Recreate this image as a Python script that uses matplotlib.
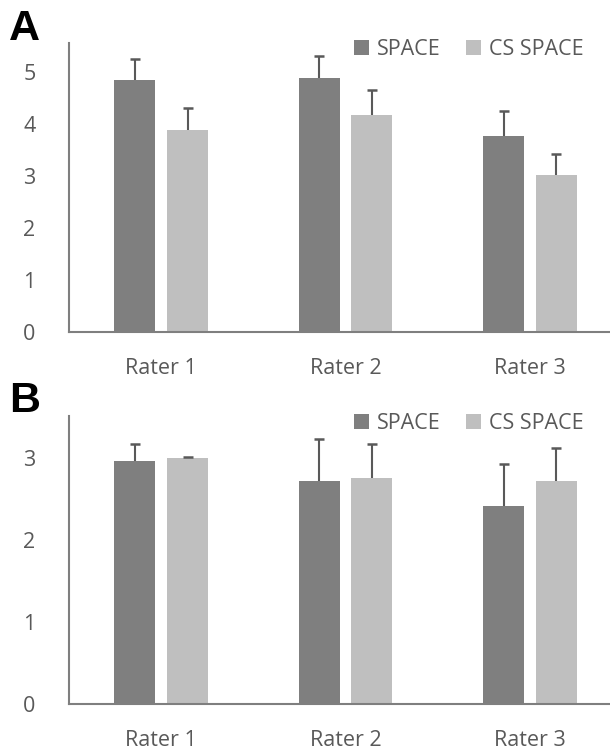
import matplotlib
matplotlib.use("Agg")
import matplotlib.pyplot as plt
import numpy as np

plt.rcParams['font.family'] = ['Open Sans', 'DejaVu Sans']

raters = ["Rater 1", "Rater 2", "Rater 3"]
series = ["SPACE", "CS SPACE"]

# panel A
a_space = [4.83, 4.87, 3.76]
a_space_err = [0.42, 0.42, 0.48]
a_cs = [3.87, 4.17, 3.02]
a_cs_err = [0.44, 0.47, 0.40]

# panel B
b_space = [2.96, 2.71, 2.41]
b_space_err = [0.21, 0.51, 0.51]
b_cs = [3.00, 2.75, 2.72]
b_cs_err = [0.01, 0.41, 0.40]

dark = '#7f7f7f'
light = '#bfbfbf'
txt = '#595959'

fig = plt.figure(figsize=(6.1, 7.53), dpi=100)


def upper_err(ax, x, y, e):
    y = np.asarray(y)
    e = np.asarray(e)
    ax.vlines(x, y, y + e, color=txt, lw=1.5, zorder=3)
    ax.plot(x, y + e, ls='none', marker='_', ms=7, mew=1.8, color=txt, zorder=3)


def panel(rect, s, se, c, ce, ymax, yticks, letter, letter_y):
    ax = fig.add_axes(rect)
    x = np.arange(len(raters))
    w = 0.222
    off = 0.143
    ax.bar(x - off, s, w, color=dark, label=series[0], zorder=2)
    ax.bar(x + off, c, w, color=light, label=series[1], zorder=2)
    upper_err(ax, x - off, s, se)
    upper_err(ax, x + off, c, ce)
    ax.set_xlim(-0.5, 2.5)
    ax.set_ylim(0, ymax)
    ax.set_yticks(yticks)
    ax.set_xticks(x)
    ax.set_xticklabels(raters)
    ax.tick_params(length=0, labelsize=15.5, labelcolor=txt)
    ax.tick_params(axis='x', pad=19)
    ax.tick_params(axis='y', pad=24)
    for sp in ['top', 'right']:
        ax.spines[sp].set_visible(False)
    for sp in ['left', 'bottom']:
        ax.spines[sp].set_color('#7f7f7f')
        ax.spines[sp].set_linewidth(1.5)
    ax.legend(loc='upper left', bbox_to_anchor=(0.48, 1.08), ncol=2,
              frameon=False, fontsize=15.5, handlelength=0.7,
              handleheight=0.7, handletextpad=0.35, columnspacing=1.2,
              labelcolor=txt)
    fig.text(0.015, letter_y, letter, fontsize=31, fontweight='bold',
             family='Liberation Sans', va='center', ha='left')
    return ax


panel([0.113, 0.559, 0.907, 0.384], a_space, a_space_err, a_cs, a_cs_err,
      5.55, range(0, 6), 'A', 0.962)
panel([0.113, 0.065, 0.907, 0.382], b_space, b_space_err, b_cs, b_cs_err,
      3.5, range(0, 4), 'B', 0.468)

plt.savefig('out.png', dpi=100)
